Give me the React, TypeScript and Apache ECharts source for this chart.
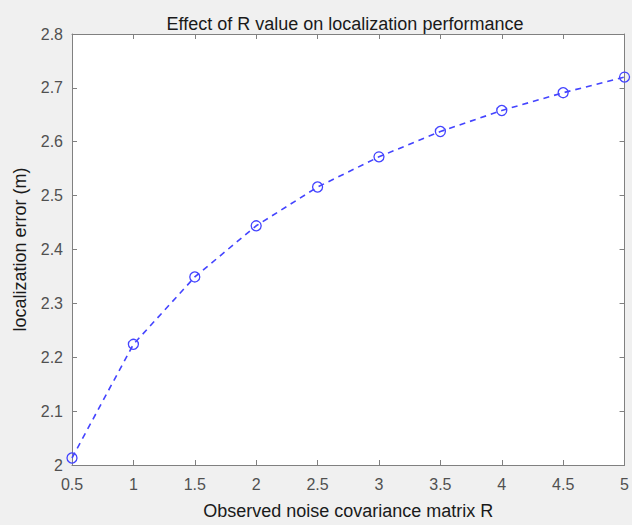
import React, { useEffect, useRef } from "react";
import * as echarts from "echarts";

const xValues = [0.5, 1, 1.5, 2, 2.5, 3, 3.5, 4, 4.5, 5];
const errorValues = [2.013, 2.224, 2.349, 2.444, 2.516, 2.572, 2.619, 2.658, 2.691, 2.72];
const titleText = "Effect of R value on localization performance";
const xName = "Observed noise covariance matrix R";
const yName = "localization error (m)";

export default function App() {
  const ref = useRef<HTMLDivElement>(null);
  useEffect(() => {
    if (!ref.current) return;
    const chart = echarts.init(ref.current, undefined, { renderer: "svg" });
    const font = "'Liberation Sans', Arial, sans-serif";
    const axisColor = "#808080";
    const labelColor = "#505050";
    const baseX = {
      type: "value",
      min: 0.5,
      max: 5,
      interval: 0.5,
      axisLine: { show: true, lineStyle: { color: axisColor, width: 1 } },
      axisTick: { show: true, inside: true, length: 5, lineStyle: { color: axisColor } },
      splitLine: { show: false },
    };
    const baseY = {
      type: "value",
      min: 2,
      max: 2.8,
      interval: 0.1,
      axisLine: { show: true, lineStyle: { color: axisColor, width: 1 } },
      axisTick: { show: true, inside: true, length: 5, lineStyle: { color: axisColor } },
      splitLine: { show: false },
    };
    chart.setOption({
      animation: false,
      backgroundColor: "#f0f0f0",
      title: {
        text: titleText,
        left: 340,
        top: 10,
        textAlign: "center",
        textStyle: { fontFamily: font, fontSize: 18, fontWeight: "normal", color: "#1a1a1a" },
      },
      grid: { left: 72, top: 34, right: 7, bottom: 57, show: true, backgroundColor: "#ffffff", borderWidth: 0 },
      xAxis: [
        {
          ...baseX,
          position: "bottom",
          name: xName,
          nameLocation: "middle",
          nameGap: 37,
          nameTextStyle: { fontFamily: font, fontSize: 18, color: "#1a1a1a" },
          axisLabel: {
            fontFamily: font,
            fontSize: 16,
            color: labelColor,
            margin: 11,
            formatter: (v: number) => String(v),
          },
        },
        { ...baseX, position: "top", axisLabel: { show: false } },
      ],
      yAxis: [
        {
          ...baseY,
          position: "left",
          name: yName,
          nameLocation: "middle",
          nameGap: 43,
          nameTextStyle: { fontFamily: font, fontSize: 18, color: "#1a1a1a" },
          axisLabel: {
            fontFamily: font,
            fontSize: 16,
            color: labelColor,
            margin: 9,
            padding: [6, 0, 0, 0],
            formatter: (v: number) => String(Math.round(v * 10) / 10),
          },
        },
        { ...baseY, position: "right", axisLabel: { show: false } },
      ],
      series: [
        {
          type: "line",
          data: xValues.map((x, i) => [x, errorValues[i]]),
          xAxisIndex: 0,
          yAxisIndex: 0,
          symbol: "circle",
          symbolSize: 10,
          showAllSymbol: true,
          clip: false,
          lineStyle: { color: "#4444ff", width: 1.6, type: [6, 5] },
          itemStyle: { color: "transparent", borderColor: "#4444ff", borderWidth: 1.3 },
        },
      ],
    });
    return () => chart.dispose();
  }, []);
  return (
    <div
      ref={ref}
      style={{ position: "fixed", left: 0, top: 0, width: 632, height: 525 }}
    />
  );
}
